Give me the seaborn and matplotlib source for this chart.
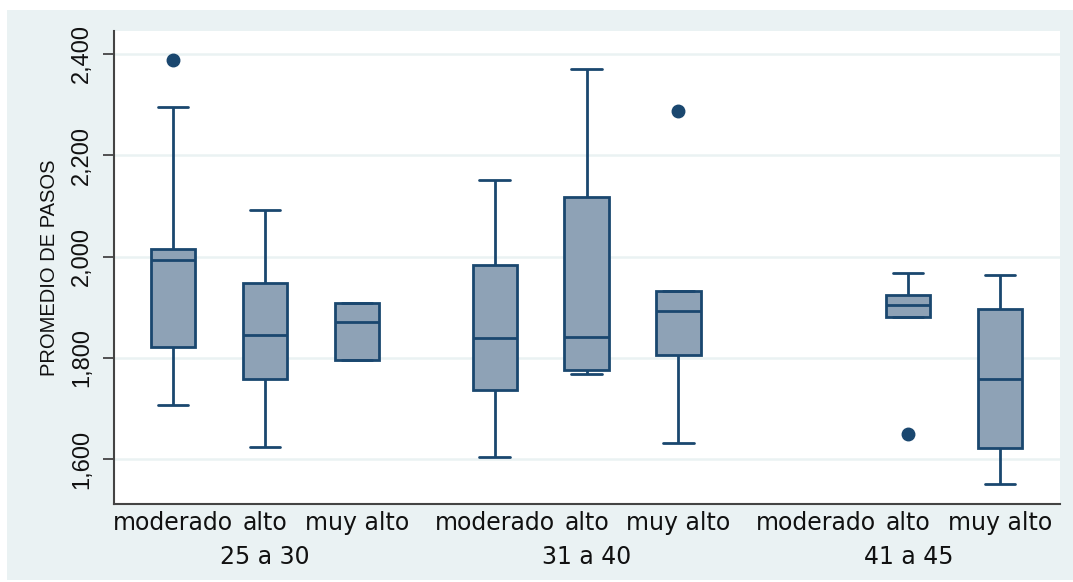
import matplotlib
matplotlib.use("Agg")
import matplotlib.pyplot as plt
from matplotlib.patches import Rectangle
import matplotlib.transforms as mtransforms
import numpy as np
import pandas as pd
import seaborn as sns

# ---- data ----
groups = ["25 a 30", "31 a 40", "41 a 45"]
levels = ["moderado", "alto", "muy alto"]

box_group = ["25 a 30", "25 a 30", "25 a 30",
             "31 a 40", "31 a 40", "31 a 40",
             "41 a 45", "41 a 45"]
box_level = ["moderado", "alto", "muy alto",
             "moderado", "alto", "muy alto",
             "alto", "muy alto"]
whisker_low  = [1708, 1625, 1796, 1604, 1768, 1632, 1881, 1551]
q1           = [1822, 1758, 1796, 1737, 1776, 1806, 1881, 1623]
median       = [1994, 1846, 1871, 1840, 1842, 1892, 1904, 1758]
q3           = [2015, 1948, 1909, 1983, 2118, 1932, 1925, 1897]
whisker_high = [2295, 2092, 1909, 2152, 2371, 1932, 1968, 1963]
outliers     = [2388, None, None, None, None, 2287, 1651, None]

ytick_values = [1600, 1800, 2000, 2200, 2400]
ytick_labels = ["1,600", "1,800", "2,000", "2,200", "2,400"]
y_title = "PROMEDIO DE PASOS"

# ---- build observations that reproduce each box summary ----
def sample(lo, a, m, b, hi, out):
    if out is None:
        return [lo, a, m, b, hi]
    if out > hi:
        return [lo, a, a, m, m, b, b, hi, out]
    return [out, lo, a, a, m, m, b, b, hi]

GAP = 1.5
rows = []
for g, l, lo, a, m, b, hi, out in zip(box_group, box_level, whisker_low, q1,
                                       median, q3, whisker_high, outliers):
    pos = groups.index(g) * (len(levels) - 1 + GAP) + levels.index(l)
    for v in sample(lo, a, m, b, hi, out):
        rows.append({"pos": pos, "value": v})
df = pd.DataFrame(rows)

# ---- style ----
navy = "#1A476F"
fill = "#8EA2B6"
bg = "#EAF2F3"
sns.set_style("white")

W, H = 1073, 582
fig = plt.figure(figsize=(W / 100, H / 100), dpi=100, facecolor="white")
bgrect = Rectangle((7 / W, 2 / H), 1 - 7 / W, (580 - 10) / H,
                   transform=fig.transFigure, facecolor=bg,
                   edgecolor="none", zorder=-10)
fig.add_artist(bgrect)
ax = fig.add_axes([114 / W, 1 - 504 / H, (1060 - 114) / W, (504 - 31) / H])
ax.set_zorder(1)
ax.set_facecolor("white")

sns.boxplot(data=df, x="pos", y="value", native_scale=True, orient="v",
            width=0.48, color=fill, saturation=1, linecolor=navy,
            linewidth=2, whis=1.5, capwidths=0.33,
            flierprops=dict(marker="o", markerfacecolor=navy,
                            markeredgecolor=navy, markersize=9),
            ax=ax)

ax.set_xlim(-0.64, 9.65)
ax.set_ylim(1512, 2445)

# y axis
ax.set_yticks(ytick_values)
ax.set_yticklabels(ytick_labels, rotation=90, va="center",
                   family=["Liberation Sans Narrow", "Liberation Sans"],
                   fontsize=17, color="#111111")
ax.tick_params(axis="y", direction="out", length=8, width=1.3,
               color="#444444", pad=7, left=True)
ax.set_ylabel(y_title, family=["Liberation Sans", "DejaVu Sans"],
              fontsize=14.5, color="#111111")
ax.yaxis.label.set_va("center")
ax.yaxis.set_label_coords((50 - 114) / 946, 0.5)
ax.yaxis.grid(True, color=bg, linewidth=1.8)
ax.set_axisbelow(True)

# x axis: level labels at every slot, group labels below
slot_pos, slot_lab = [], []
for gi, g in enumerate(groups):
    for li, l in enumerate(levels):
        slot_pos.append(gi * (len(levels) - 1 + GAP) + li)
        slot_lab.append(l)
ax.set_xticks(slot_pos)
ax.set_xticklabels(slot_lab, fontsize=17, family="DejaVu Sans",
                   color="#111111")
ax.tick_params(axis="x", length=0, pad=5)
ax.set_xlabel("")

trans = mtransforms.blended_transform_factory(ax.transData, ax.transAxes)
for gi, g in enumerate(groups):
    cx = gi * (len(levels) - 1 + GAP) + 1
    ax.text(cx, (504 - 557) / 473, g, transform=trans, ha="center",
            va="center", fontsize=17, family="DejaVu Sans", color="#111111")

for s in ["top", "right"]:
    ax.spines[s].set_visible(False)
for s in ["left", "bottom"]:
    ax.spines[s].set_color("#444444")
    ax.spines[s].set_linewidth(1.5)

fig.savefig("out.png", dpi=100, facecolor="white")
